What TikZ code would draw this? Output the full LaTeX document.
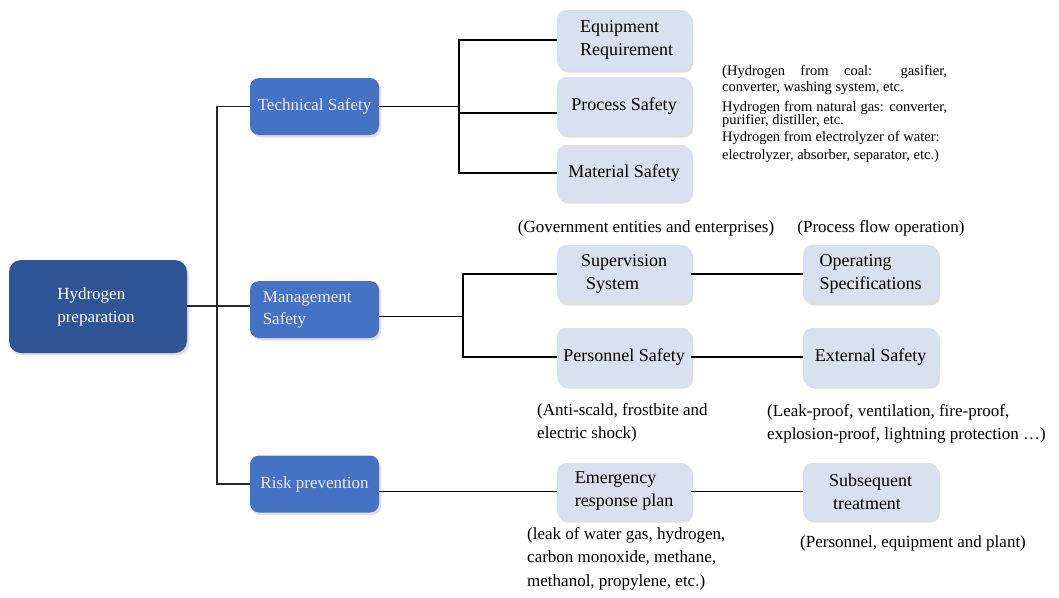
\documentclass[tikz,border=0pt]{standalone}
\usepackage{fontspec}
\setmainfont{Liberation Serif}
\usetikzlibrary{shadows}
\definecolor{darkbox}{HTML}{2F5597}
\definecolor{midbox}{HTML}{4472C4}
\definecolor{lightbox}{HTML}{D9E1F0}
\tikzset{
  base/.style={rounded corners=9pt, inner sep=2pt,
    drop shadow={opacity=0.25, shadow xshift=2pt, shadow yshift=-2.5pt}},
  rootbox/.style={base, fill=darkbox, text=white, minimum width=178pt, minimum height=93pt,
    rounded corners=12pt, font=\fontsize{17}{23}\selectfont, align=left},
  catbox/.style={base, fill=midbox, text=white!92!blue, minimum width=129pt, minimum height=57pt,
    font=\fontsize{17}{22}\selectfont, align=left},
  itembox/.style={base, fill=lightbox, text=black, minimum width=134pt, minimum height=58pt,
    font=\fontsize{18}{23}\selectfont, align=left},
  conn/.style={draw=black, line width=1.6pt},
  trunk/.style={draw=black!85, line width=1.1pt},
  note/.style={inner sep=0pt, font=\fontsize{17}{23.5}\selectfont, align=left},
  small/.style={inner sep=0pt, anchor=west, font=\fontsize{14.5}{16}\selectfont},
}
\begin{document}
\begin{tikzpicture}[x=1pt,y=-1pt]
\path[use as bounding box, fill=white] (0,0) rectangle (1059,597);

% nodes
\node[rootbox] (hyd) at (98,306.5) {Hydrogen\\preparation\hspace*{4pt}};
\node[catbox] (tech) at (314.5,106.5) {Technical Safety};
\node[catbox] (mgmt) at (314.5,309.5) {Management\\Safety\hspace*{60pt}};
\node[catbox] (risk) at (314.5,484) {Risk prevention};

\node[itembox, minimum height=60pt] (equip) at (624,40) {\hspace*{5pt}Equipment\\\hspace*{5pt}Requirement};
\node[itembox] (proc) at (624,106) {Process Safety};
\node[itembox, minimum height=56pt] (mat) at (624,173) {Material Safety};

\node[itembox] (sup) at (624,274) {Supervision\\\hspace*{5pt}System};
\node[itembox, minimum width=135pt] (op) at (870.5,274) {Operating\\Specifications};
\node[itembox] (pers) at (624,357) {Personnel Safety};
\node[itembox, minimum width=135pt] (ext) at (870.5,357) {External Safety};
\node[itembox, minimum height=57pt] (emer) at (624,491.5) {Emergency\\response plan};
\node[itembox, minimum height=57pt, minimum width=135pt] (sub) at (870.5,491.5) {Subsequent\\\hspace*{4pt}treatment};

% junction coordinates
\coordinate (tj) at (217,306);
\coordinate (tt) at (459,0);
\coordinate (mj) at (463,0);

% connectors
\draw[trunk] (hyd.east |- tj) -- (tj);
\draw[trunk] (tech.west) -- (tech.west -| tj) -- (risk.west -| tj) -- (risk.west);
\draw[trunk] (tj) -- (tj -| mgmt.west);

\draw[conn] (tech.east) -- (tech.east -| tt);
\draw[conn] (equip.west) -- (equip.west -| tt) -- (mat.west -| tt) -- (mat.west);
\draw[conn] ([yshift=-7pt]proc.west) -- ([yshift=-7pt]proc.west -| tt);

\draw[conn] ([yshift=-7pt]mgmt.east) -- ([yshift=-7pt]mgmt.east -| mj);
\draw[conn] (sup.west) -- (sup.west -| mj) -- (pers.west -| mj) -- (pers.west);
\draw[conn] (sup.east) -- (op.west);
\draw[conn] (pers.east) -- (ext.west);

\draw[conn] (emer.west -| risk.east) -- (emer.west);
\draw[conn] (emer.east) -- (sub.west);

% notes
\node[small] (n1) at (722,72) {\makebox[225pt][s]{(Hydrogen from coal: gasifier,}};
\node[small] (n2) at (722,88) {converter, washing system, etc.};
\node[small] (n3) at (722,108) {\makebox[225pt][s]{Hydrogen from natural gas: converter,}};
\node[small] (n4) at (722,121) {purifier, distiller, etc.};
\node[small] (n5) at (722,138) {Hydrogen from electrolyzer of water:};
\node[small] (n6) at (722,156) {electrolyzer, absorber, separator, etc.)};

\node[note] (gov) at (646,228) {(Government entities and enterprises)};
\node[note] (pfo) at (881,228) {(Process flow operation)};
\node[note, anchor=north west] (anti) at (537,403) {(Anti-scald, frostbite and\\electric shock)};
\node[note, anchor=north west] (leak) at (767,404) {(Leak-proof, ventilation, fire-proof,\\explosion-proof, lightning protection …)};
\node[note, anchor=north west] (lwg) at (527,527) {(leak of water gas, hydrogen,\\carbon monoxide, methane,\\methanol, propylene, etc.)};
\node[note, anchor=west] (pep) at (800,543) {(Personnel, equipment and plant)};
\end{tikzpicture}
\end{document}
